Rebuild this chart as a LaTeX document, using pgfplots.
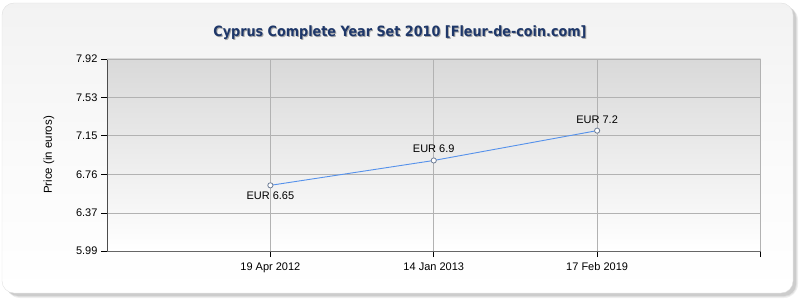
\documentclass[border=0pt]{standalone}
\usepackage{pgfplots}
\pgfplotsset{compat=1.18}
\usepackage{fontspec}
\setmainfont{Liberation Sans}
\newfontfamily\titlefont{DejaVu Sans Condensed}
\definecolor{titleblue}{RGB}{30,55,105}
\definecolor{linec}{RGB}{85,145,235}
\definecolor{markc}{RGB}{110,125,150}
\definecolor{gridc}{RGB}{178,178,178}
\begin{document}
\begin{tikzpicture}[x=1pt,y=1pt]
\path[use as bounding box] (0,0) rectangle (800,300);
% shadow
\fill[black!6, rounded corners=14] (6,2) rectangle (798,294);
\fill[black!12, rounded corners=13] (6,3) rectangle (797,294);
\fill[black!20, rounded corners=12] (6,4) rectangle (796,294);
% panel
\shade[top color=black!5, bottom color=white, middle color=black!2, rounded corners=12] (2,7) rectangle (793,297);
\draw[black!12, rounded corners=12] (2,7) rectangle (793,297);
% title
\node[text=black!35] at (401.0,266.0) {\titlefont\bfseries\fontsize{14.2}{16}\selectfont Cyprus Complete Year Set 2010 [Fleur-de-coin.com]};
\node[text=titleblue] at (400,267) {\titlefont\bfseries\fontsize{14.2}{16}\selectfont Cyprus Complete Year Set 2010 [Fleur-de-coin.com]};
% y label
\node[rotate=90, font=\fontsize{11.5}{13}\selectfont] at (49,145) {Price (in euros)};
\begin{axis}[
  at={(107pt,49pt)}, anchor=south west,
  scale only axis, width=653.5pt, height=192pt,
  xmin=0, xmax=4, ymin=5.99, ymax=7.92,
  xtick={1,2,3}, xticklabels={19 Apr 2012,14 Jan 2013,17 Feb 2019},
  extra x ticks={4}, extra x tick labels={},
  ytick={5.99,6.37,6.76,7.15,7.53,7.92},
  yticklabel style={/pgf/number format/.cd, fixed, fixed zerofill, precision=2},
  xticklabel style={yshift=-2pt},
  /pgf/number format/assume math mode=true,
  ticklabel style={font=\fontsize{11}{13}\selectfont, text=black},
  grid=major, major grid style={gridc, line width=0.6pt},
  axis line style={draw=none},
  tick align=outside, tick pos=left,
  major tick length=6pt, tick style={black, line width=0.8pt},
  axis background/.style={top color=black!15, bottom color=white},
  clip=false,
]
\draw[black!70, line width=0.8pt] (axis cs:0,5.99) -- (axis cs:0,7.92);
\draw[black!60, line width=0.8pt] (axis cs:0,5.99) -- (axis cs:4,5.99);
\draw[gridc, line width=0.6pt] (axis cs:4,5.99) -- (axis cs:4,7.92) -- (axis cs:0,7.92);
\addplot[color=linec, line width=0.9pt, mark=*, mark size=2.6pt,
  mark options={fill=white, draw=markc, line width=0.8pt},
  nodes near coords, point meta=explicit symbolic,
  visualization depends on={value \thisrow{anc} \as \anc},
  visualization depends on={value \thisrow{dy} \as \dy},
  every node near coord/.append style={anchor=\anc, font=\fontsize{11}{13}\selectfont, text=black, inner sep=2pt, yshift=\dy pt}]
table[col sep=comma, meta=label] {
x,y,label,anc,dy
1,6.65,EUR 6.65,north,-4
2,6.9,EUR 6.9,south,5
3,7.2,EUR 7.2,south,5
};
\end{axis}
\end{tikzpicture}
\end{document}
